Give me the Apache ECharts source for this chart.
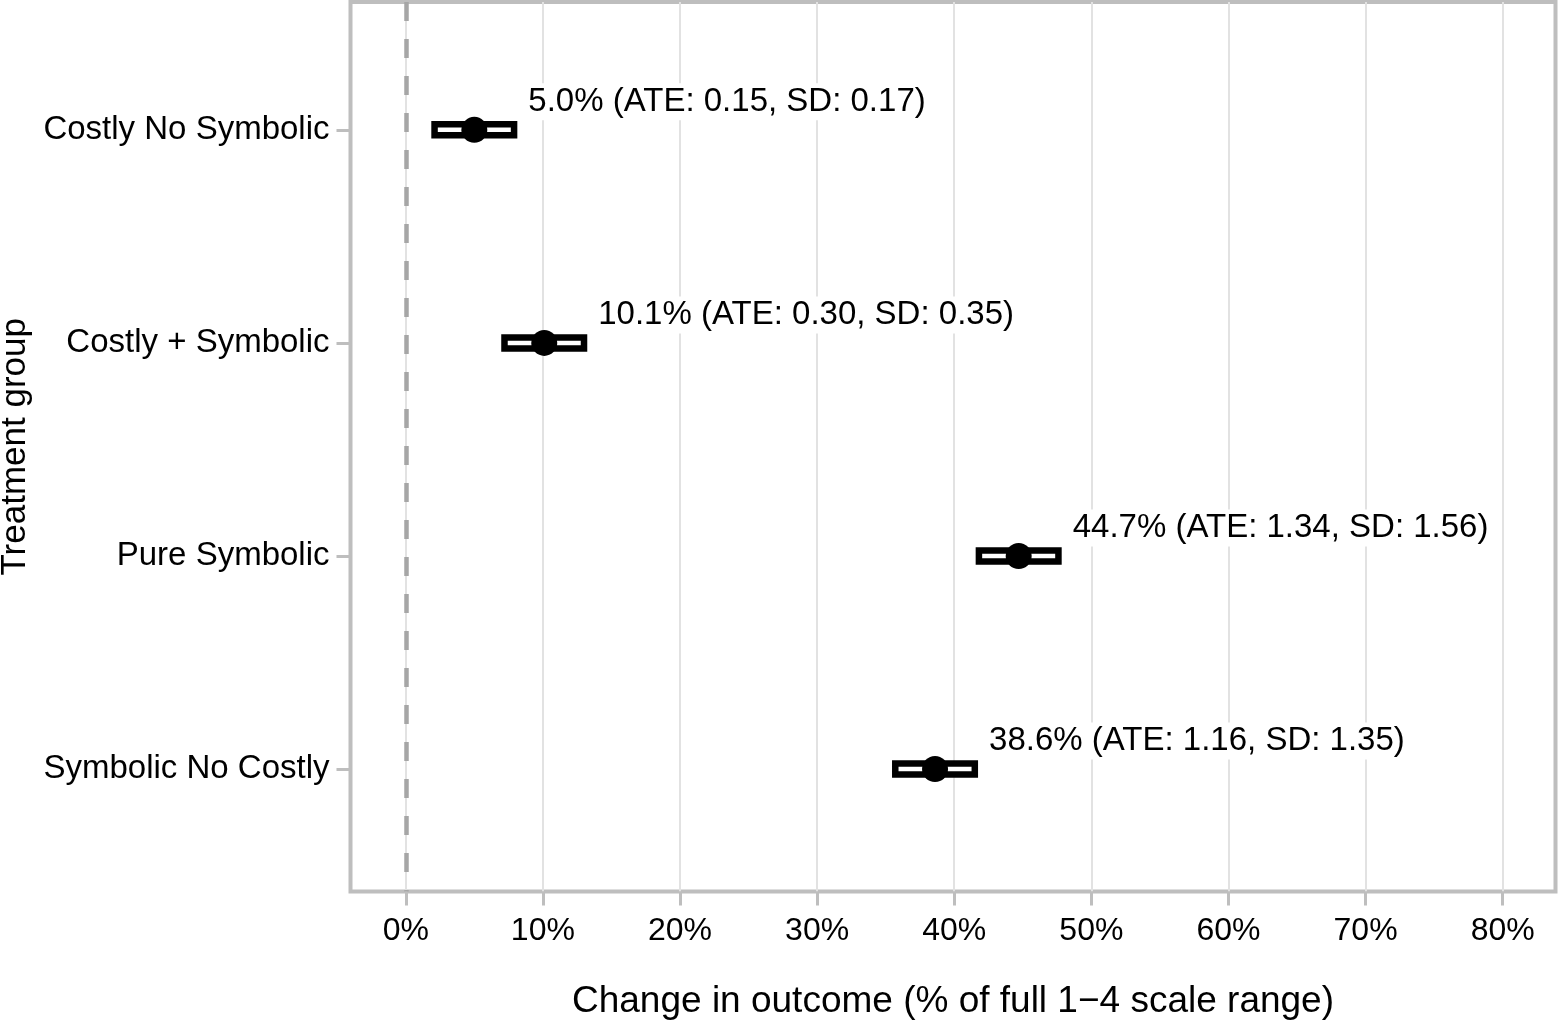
<!DOCTYPE html>
<html><head><meta charset="utf-8">
<script src="https://cdn.jsdelivr.net/npm/echarts@6/dist/echarts.min.js"></script>
<style>html,body{margin:0;padding:0;background:#fff}#chart{width:1561px;height:1026px}</style>
</head><body><div id="chart"></div>
<script>
// ---- data ----
const categories = ['Costly No Symbolic', 'Costly + Symbolic', 'Pure Symbolic', 'Symbolic No Costly'];
const estimate = [5.0, 10.1, 44.7, 38.6];
const ciLow = [2.1, 7.2, 41.8, 35.7];
const ciHigh = [7.9, 13.0, 47.6, 41.5];
const ate = [0.15, 0.30, 1.34, 1.16];
const sd = [0.17, 0.35, 1.56, 1.35];
const xTicks = [0, 10, 20, 30, 40, 50, 60, 70, 80];
const xTitle = 'Change in outcome (% of full 1\u22124 scale range)';
const yTitle = 'Treatment group';

// ---- chart ----
const FONT = "'Liberation Sans', Arial, Helvetica, sans-serif";
const yIndex = categories.map((c, i) => i + 1);
const labelTexts = categories.map((c, i) =>
  estimate[i].toFixed(1) + '% (ATE: ' + ate[i].toFixed(2) + ', SD: ' + sd[i].toFixed(2) + ')');

const chart = echarts.init(document.getElementById('chart'), null, { renderer: 'canvas' });
const option = {
  animation: false,
  backgroundColor: '#ffffff',
  grid: {
    left: 350.5, right: 5.5, top: 2, bottom: 134.5,
    show: true, borderColor: '#bebebe', borderWidth: 4, backgroundColor: 'transparent',
    outerBoundsMode: 'none', containLabel: false
  },
  xAxis: {
    type: 'value', min: -4.03, max: 83.85,
    axisLine: { show: false, onZero: false },
    axisTick: { show: true, length: 14, lineStyle: { color: '#bebebe', width: 3 }, customValues: xTicks },
    axisLabel: { customValues: xTicks, formatter: v => v + '%', fontSize: 32, color: '#000', margin: 24, fontFamily: FONT },
    splitLine: { show: true, lineStyle: { color: '#e2e2e2', width: 2 } },
    name: xTitle, nameLocation: 'middle', nameGap: 92,
    nameTextStyle: { fontSize: 37, color: '#000', fontFamily: FONT }
  },
  yAxis: {
    type: 'value', inverse: true, min: 0.4, max: 4.575,
    axisLine: { show: false, onZero: false },
    axisTick: { show: true, length: 14, lineStyle: { color: '#bebebe', width: 3 }, customValues: yIndex },
    axisLabel: { customValues: yIndex, formatter: v => categories[Math.round(v) - 1] || '', fontSize: 33, color: '#000', margin: 21, fontFamily: FONT, padding: [5, 0, 0, 0] },
    splitLine: { show: false },
    name: yTitle, nameLocation: 'middle', nameGap: 313, nameRotate: 90,
    nameTextStyle: { fontSize: 35, color: '#000', fontFamily: FONT }
  },
  series: [
    {
      type: 'custom', z: 3,
      data: categories.map((c, i) => [ciLow[i], ciHigh[i], i + 1]),
      encode: { x: [0, 1], y: 2 },
      renderItem: (params, api) => {
        const y = api.value(2);
        const p1 = api.coord([api.value(0), y]);
        const p2 = api.coord([api.value(1), y]);
        const h = 11;
        return {
          type: 'rect',
          shape: { x: p1[0], y: p1[1] - h / 2, width: p2[0] - p1[0], height: h },
          style: { fill: '#fff', stroke: '#000', lineWidth: 6.5 }
        };
      },
      markLine: {
        silent: true, symbol: 'none', label: { show: false },
        lineStyle: { color: '#a6a6a6', width: 4.5, type: [19, 18], opacity: 1 },
        data: [{ xAxis: 0 }]
      }
    },
    {
      type: 'scatter', z: 4,
      data: categories.map((c, i) => [estimate[i], i + 1]),
      symbol: 'circle', symbolSize: 26,
      itemStyle: { color: '#000', opacity: 1 }
    },
    {
      type: 'custom', z: 5,
      data: categories.map((c, i) => [estimate[i], i + 1]),
      encode: { x: 0, y: 1 },
      renderItem: (params, api) => {
        const p = api.coord([api.value(0), api.value(1)]);
        return {
          type: 'text',
          style: {
            text: labelTexts[params.dataIndex],
            x: p[0] + 51, y: p[1] - 28,
            align: 'left', verticalAlign: 'middle',
            fill: '#000', font: '33px ' + FONT,
            backgroundColor: '#fff', padding: [2, 3, 2, 3]
          }
        };
      }
    }
  ]
};
chart.setOption(option);
</script>
</body></html>
